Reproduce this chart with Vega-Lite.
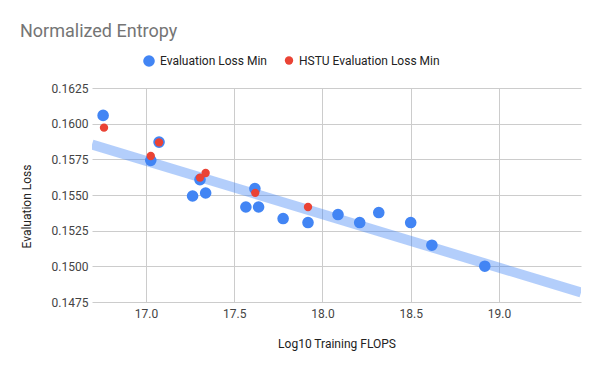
{
  "$schema": "https://vega.github.io/schema/vega-lite/v6.json",
  "width": 489,
  "height": 214,
  "autosize": {"type": "none"},
  "padding": {"left": 92, "top": 88, "right": 19, "bottom": 69},
  "background": "white",
  "title": {
    "text": "Normalized Entropy",
    "anchor": "start",
    "frame": "group",
    "font": "Roboto",
    "fontSize": 18,
    "fontWeight": "normal",
    "color": "#757575",
    "dx": -72,
    "offset": 13
  },
  "config": {
    "view": {"stroke": null},
    "font": "Roboto",
    "axis": {
      "labelFont": "Roboto",
      "titleFont": "Roboto",
      "labelFontSize": 12,
      "titleFontSize": 12,
      "labelColor": "#444444",
      "titleColor": "#222222",
      "titleFontWeight": "normal",
      "gridColor": "#cccccc",
      "gridOpacity": 1,
      "ticks": false,
      "domain": false
    }
  },
  "datasets": {
    "pts": [
      {"series": "Evaluation Loss Min", "flops": 16.757, "loss": 0.16058},
      {"series": "Evaluation Loss Min", "flops": 17.027, "loss": 0.15743},
      {"series": "Evaluation Loss Min", "flops": 17.074, "loss": 0.15871},
      {"series": "Evaluation Loss Min", "flops": 17.306, "loss": 0.15608},
      {"series": "Evaluation Loss Min", "flops": 17.264, "loss": 0.15493},
      {"series": "Evaluation Loss Min", "flops": 17.338, "loss": 0.15514},
      {"series": "Evaluation Loss Min", "flops": 17.617, "loss": 0.15545},
      {"series": "Evaluation Loss Min", "flops": 17.566, "loss": 0.15416},
      {"series": "Evaluation Loss Min", "flops": 17.638, "loss": 0.15416},
      {"series": "Evaluation Loss Min", "flops": 17.777, "loss": 0.15335},
      {"series": "Evaluation Loss Min", "flops": 17.918, "loss": 0.15307},
      {"series": "Evaluation Loss Min", "flops": 18.088, "loss": 0.15363},
      {"series": "Evaluation Loss Min", "flops": 18.211, "loss": 0.15307},
      {"series": "Evaluation Loss Min", "flops": 18.319, "loss": 0.15377},
      {"series": "Evaluation Loss Min", "flops": 18.5, "loss": 0.15307},
      {"series": "Evaluation Loss Min", "flops": 18.62, "loss": 0.15148},
      {"series": "Evaluation Loss Min", "flops": 18.92, "loss": 0.15001},
      {"series": "HSTU Evaluation Loss Min", "flops": 16.762, "loss": 0.15972},
      {"series": "HSTU Evaluation Loss Min", "flops": 17.027, "loss": 0.15773},
      {"series": "HSTU Evaluation Loss Min", "flops": 17.074, "loss": 0.15869},
      {"series": "HSTU Evaluation Loss Min", "flops": 17.306, "loss": 0.15622},
      {"series": "HSTU Evaluation Loss Min", "flops": 17.338, "loss": 0.15654},
      {"series": "HSTU Evaluation Loss Min", "flops": 17.619, "loss": 0.15515},
      {"series": "HSTU Evaluation Loss Min", "flops": 17.918, "loss": 0.15416}
    ],
    "trend": [
      {"flops": 16.694, "loss": 0.15854},
      {"flops": 19.465, "loss": 0.14817}
    ]
  },
  "layer": [
    {
      "data": {"name": "trend"},
      "mark": {"type": "line", "color": "#4285f4", "opacity": 0.4, "strokeWidth": 10, "clip": true},
      "encoding": {
        "x": {"field": "flops", "type": "quantitative"},
        "y": {"field": "loss", "type": "quantitative"}
      }
    },
    {
      "data": {"name": "pts"},
      "mark": {"type": "point", "filled": true, "opacity": 1, "shape": "circle"},
      "encoding": {
        "x": {
          "field": "flops",
          "type": "quantitative",
          "scale": {"domain": [16.694, 19.465], "nice": false, "zero": false},
          "axis": {
            "title": "Log10 Training FLOPS",
            "values": [17, 17.5, 18, 18.5, 19],
            "tickCount": 10,
            "format": ".1f",
            "labelPadding": 6,
            "titlePadding": 19,
            "labelOverlap": false
          }
        },
        "y": {
          "field": "loss",
          "type": "quantitative",
          "scale": {"domain": [0.1475, 0.1625], "nice": false, "zero": false},
          "axis": {
            "title": "Evaluation Loss",
            "values": [0.1475, 0.15, 0.1525, 0.155, 0.1575, 0.16, 0.1625],
            "tickCount": 10,
            "format": ".4f",
            "labelPadding": 4,
            "titlePadding": 18,
            "titleY": 118,
            "labelOverlap": false,
            "labelSeparation": 0
          }
        },
        "color": {
          "field": "series",
          "type": "nominal",
          "scale": {"domain": ["Evaluation Loss Min", "HSTU Evaluation Loss Min"], "range": ["#4285f4", "#ea4335"]},
          "legend": {
            "title": null,
            "orient": "none",
            "direction": "horizontal",
            "legendX": 50,
            "legendY": -34,
            "symbolType": "circle",
            "symbolSize": 110,
            "symbolOpacity": 1,
            "labelFont": "Roboto",
            "labelFontSize": 12,
            "labelColor": "#222222",
            "columnPadding": 16,
            "labelLimit": 300
          }
        },
        "size": {
          "field": "series",
          "type": "nominal",
          "scale": {"domain": ["Evaluation Loss Min", "HSTU Evaluation Loss Min"], "range": [135, 70]},
          "legend": null
        }
      }
    }
  ]
}
